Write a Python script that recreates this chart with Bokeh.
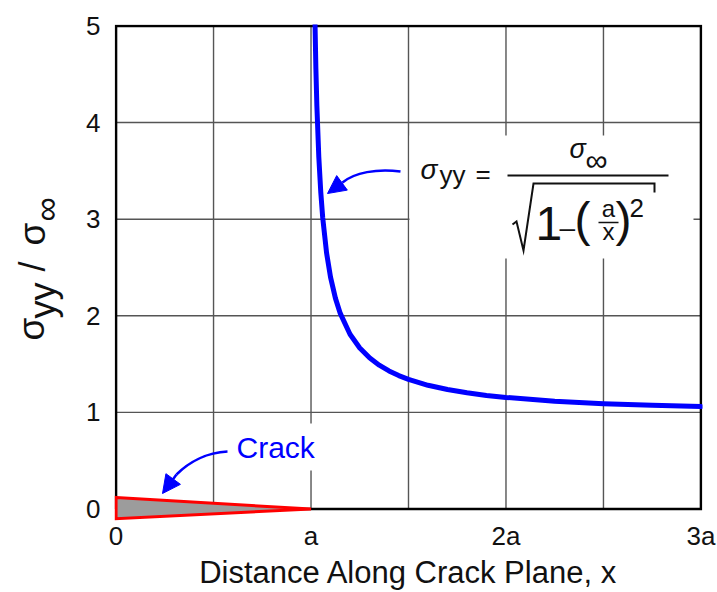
import math
from bokeh.plotting import figure
from bokeh.layouts import row
from bokeh.models import Label, Arrow, NormalHead, FixedTicker, Range1d
from bokeh.embed import file_html
from bokeh.resources import INLINE

# ---------------- data ----------------
distance_x = [1.02, 1.025, 1.03, 1.04, 1.05, 1.06, 1.08, 1.10, 1.125, 1.15, 1.2, 1.25,
              1.3, 1.35, 1.4, 1.45, 1.5, 1.6, 1.7, 1.8, 1.9, 2.0, 2.25, 2.5, 2.75, 3.0]
stress_ratio = [5.075, 4.556, 4.174, 3.641, 3.280, 3.015, 2.648, 2.400, 2.183, 2.025, 1.809, 1.667,
                1.565, 1.489, 1.429, 1.381, 1.342, 1.281, 1.237, 1.203, 1.176, 1.155, 1.116, 1.091, 1.073, 1.061]
crack_x = [0.0, 1.0, 0.0]
crack_y = [0.12, 0.0, -0.10]
x_ticks = [0, 1, 2, 3]
x_tick_labels = ["0", "a", "2a", "3a"]
y_ticks = [0, 1, 2, 3, 4, 5]
x_grid = [0.5, 1.0, 1.5, 2.0, 2.5]
y_grid = [1, 2, 3, 4]
x_label = "Distance Along Crack Plane, x"
crack_label = "Crack"

# ---------------- layout constants ----------------
FONT = "Liberation Sans"
TXT = "#111111"
BLUE = "#0000FF"
PAGE_W, PAGE_H = 717, 592
LW = 80                      # width of the strip holding the rotated y label
W, H = PAGE_W - LW, PAGE_H
ML, MR, MT, MB = 34, 15, 24, 68
XR = (-0.008, 3.008)
YR = (-0.16, 5.015)
XMIN, XMAX, YMIN, YMAX = 0, 3, 0, 5
BASE_K = 0.3                 # alphabetic-baseline correction (fraction of font size)

p = figure(width=W, height=H, output_backend="svg", toolbar_location=None,
           x_range=Range1d(*XR), y_range=Range1d(*YR),
           min_border_left=ML, min_border_right=MR, min_border_top=MT, min_border_bottom=MB)
p.outline_line_color = None
p.background_fill_color = "white"
p.border_fill_color = "white"
p.xgrid.visible = False
p.ygrid.visible = False

# page pixel -> data helpers (for annotation placement)
SX = (W - ML - MR) / (XR[1] - XR[0])
SY = (H - MT - MB) / (YR[1] - YR[0])
X0 = LW + ML - XR[0] * SX
Y0 = MT + YR[1] * SY


def X(px):
    return (px - X0) / SX


def Y(py):
    return (Y0 - py) / SY


# axes
for ax in (p.xaxis[0], p.yaxis[0]):
    ax.axis_line_color = None
    ax.major_tick_line_color = None
    ax.minor_tick_line_color = None
    ax.major_tick_out = 0
    ax.major_tick_in = 0
    ax.minor_tick_out = 0
    ax.minor_tick_in = 0
    ax.major_label_text_font = FONT
    ax.major_label_text_font_size = "26px"
    ax.major_label_text_color = TXT

p.xaxis.ticker = FixedTicker(ticks=x_ticks)
p.xaxis.major_label_overrides = dict(zip(x_ticks, x_tick_labels))
p.xaxis.major_label_standoff = -4
p.xaxis.axis_label = x_label
p.xaxis.axis_label_text_font = FONT
p.xaxis.axis_label_text_font_size = "31px"
p.xaxis.axis_label_text_font_style = "normal"
p.xaxis.axis_label_text_color = TXT
p.xaxis.axis_label_standoff = 1

p.yaxis.ticker = FixedTicker(ticks=y_ticks)
p.yaxis.major_label_standoff = 14

# grid lines
GRID = "#555555"
p.segment(x0=x_grid, y0=[YMIN] * len(x_grid), x1=x_grid, y1=[YMAX] * len(x_grid),
          line_color=GRID, line_width=1.4)
p.segment(x0=[XMIN] * len(y_grid), y0=y_grid, x1=[XMAX] * len(y_grid), y1=y_grid,
          line_color=GRID, line_width=1.4)

# white boxes behind annotation texts
p.quad(left=[X(409), X(229)], right=[X(693), X(327)], top=[Y(135), Y(423)], bottom=[Y(258), Y(470)],
       fill_color="white", line_color=None)

# frame border
p.line([XMIN, XMIN, XMAX, XMAX, XMIN], [YMIN, YMAX, YMAX, YMIN, YMIN],
       line_color="black", line_width=2.5, line_join="miter")

# stress curve
p.line(distance_x, stress_ratio, line_color=BLUE, line_width=5, line_join="round", line_cap="round")

# crack
p.patch(crack_x, crack_y, fill_color="#9c9c9c", line_color="#FF0000", line_width=3, line_join="miter")

# curved arrows
p.bezier(x0=[X(400), X(227)], y0=[Y(171), Y(451)],
         x1=[X(342), X(176)], y1=[Y(182), Y(474)],
         cx0=[X(376), X(206)], cy0=[Y(168), Y(452)],
         cx1=[X(354), X(188)], cy1=[Y(172), Y(462)],
         line_color=BLUE, line_width=2.5)
for (bx, by, tx, ty) in [(342, 182, 327, 193), (176, 474, 162, 493)]:
    p.add_layout(Arrow(end=NormalHead(size=18, fill_color=BLUE, line_color=BLUE, line_width=1),
                       x_start=X(bx), y_start=Y(by), x_end=X(tx), y_end=Y(ty),
                       line_color=BLUE, line_width=2.5))


def lab(fig, text, x, y, size, style="normal", align="left", angle=0.0, color=TXT):
    fig.add_layout(Label(x=x, y=y, text=text, text_font=FONT, text_font_size=f"{size}px",
                         text_font_style=style, text_color=color, text_align=align,
                         text_baseline="alphabetic", angle=angle))


def plab(text, px, py, size, style="normal", align="left", color=TXT):
    lab(p, text, X(px), Y(py - BASE_K * size), size, style, align, 0.0, color)


# "Crack" label
plab(crack_label, 236, 456, 30, color=BLUE)

# formula: sigma_yy = sigma_inf / sqrt(1 - (a/x)^2)
plab("σ", 420, 177, 28, "italic")
plab("yy", 439, 182, 26)
plab("=", 475, 181, 26)
p.line([X(507), X(668)], [Y(175), Y(175)], line_color=TXT, line_width=2)
plab("σ", 569, 157, 27, "italic")
plab("∞", 585, 169, 31)
p.line([X(512), X(516), X(523), X(533), X(654), X(654)],
       [Y(224), Y(221), Y(250), Y(183), Y(183), Y(192)],
       line_color=TXT, line_width=2, line_join="miter")
plab("1", 535, 237, 48)
plab("–", 559, 235, 28)
plab("(", 574, 233, 48)
plab("a", 608, 215, 24, align="center")
p.line([X(598), X(618)], [Y(222), Y(222)], line_color=TXT, line_width=1.5)
plab("x", 608, 238, 24, align="center")
plab(")", 615, 233, 48)
plab("2", 629, 215, 26)

# ---------------- strip with the rotated y-axis label ----------------
q = figure(width=LW, height=PAGE_H, output_backend="svg", toolbar_location=None,
           x_range=Range1d(0, LW), y_range=Range1d(MB, PAGE_H - MT),
           x_axis_location=None, y_axis_location=None,
           min_border_left=0, min_border_right=0, min_border_top=MT, min_border_bottom=MB)
q.outline_line_color = None
q.xgrid.visible = False
q.ygrid.visible = False
q.background_fill_color = "white"
q.border_fill_color = "white"

R = math.pi / 2
for text, px, py, size in [("σ", 42, 340, 37), ("yy", 53, 318, 36), ("/", 43, 271, 36),
                           ("σ", 43, 245, 37), ("∞", 56, 221, 34)]:
    lab(q, text, px - BASE_K * size, PAGE_H - py, size, angle=R)

layout = row(q, p, spacing=0)
open("out.html", "w").write(file_html(layout, INLINE))
